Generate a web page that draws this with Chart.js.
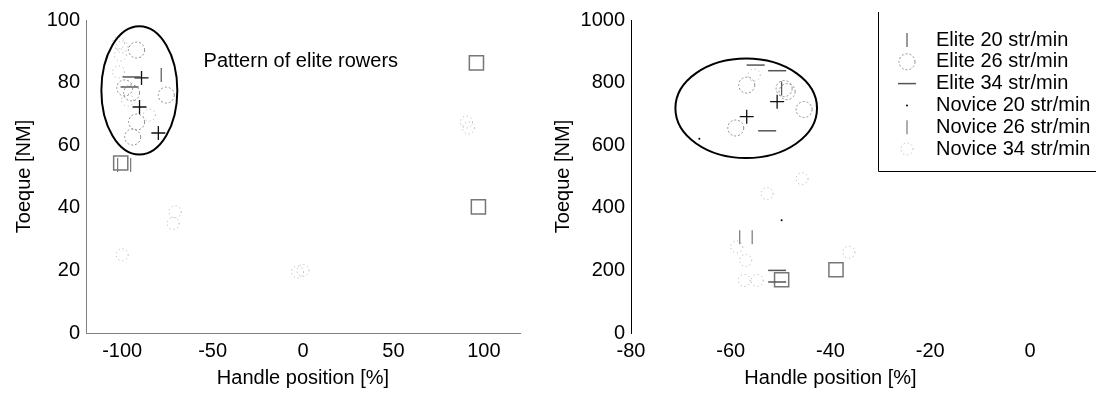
<!DOCTYPE html>
<html>
<head>
<meta charset="utf-8">
<script src="https://cdn.jsdelivr.net/npm/chart.js@4.4.1/dist/chart.umd.min.js"></script>
<style>
  html, body { margin: 0; padding: 0; background: #fff; }
  #wrap { position: relative; width: 1096px; height: 396px; }
  canvas { position: absolute; top: 0; }
</style>
</head>
<body>
<div id="wrap">
  <canvas id="leftChart" width="548" height="396" style="left:0"></canvas>
  <canvas id="rightChart" width="548" height="396" style="left:548px"></canvas>
</div>
<script>
// legend names (the last two groups, crosses and squares, are not in the legend)
var seriesNames = ['Elite 20 str/min', 'Elite 26 str/min', 'Elite 34 str/min',
  'Novice 20 str/min', 'Novice 26 str/min', 'Novice 34 str/min'];

var leftXTicks = [-100, -50, 0, 50, 100];
var leftYTicks = [0, 20, 40, 60, 80, 100];
var rightXTicks = [-80, -60, -40, -20, 0];
var rightYTicks = [0, 200, 400, 600, 800, 1000];

// left panel, [handle position, torque]
var leftElite20 = [[-78.4, 82.4]];
var leftElite26 = [[-92, 90.4], [-75.6, 76], [-92, 67.4], [-94.2, 62.6], [-94.8, 76.7], [-98.6, 78.3]];
var leftElite34 = [[-94.8, 81.8], [-95.9, 78.6]];
var leftNovice20 = [];
var leftNovice26 = [[-102.5, 53.7], [-95.3, 53.7]];
var leftNovice34 = [[-100, 91.4], [-101, 88.8], [-102, 83.4], [-97, 74.4], [-85, 69.6], [-102, 92.7],
  [-70.7, 38.7], [-71.8, 35], [-100, 25], [0, 20], [-3, 19.5], [90.4, 67.4], [91.5, 65.5]];
var leftCross = [[-89.3, 81.5], [-90.4, 72.2], [-80, 63.9]];
var leftSquare = [[-100.8, 54.3], [95.9, 86.3], [97, 40.3]];

// right panel
var rightElite20 = [[-49.8, 781]];
var rightElite26 = [[-56.8, 792], [-59, 655], [-48.7, 771], [-45.3, 714], [-49.3, 781]];
var rightElite34 = [[-55, 856], [-50.7, 838], [-52.7, 646], [-50.7, 200], [-50.7, 163]];
var rightNovice20 = [[-49.8, 360], [-66.3, 621]];
var rightNovice26 = [[-58.2, 306], [-55.7, 306]];
var rightNovice34 = [[-55.3, 824], [-52.7, 445], [-45.7, 493], [-58.8, 275], [-57, 232],
  [-57.3, 168], [-54.7, 168], [-36.3, 258]];
var rightCross = [[-56.8, 691], [-50.7, 739]];
var rightSquare = [[-49.8, 170], [-38.9, 202]];

// ellipses round the elite pattern: centre and half axes in data units
var leftEllipse = { cx: -90.5, cy: 77.5, rx: 21, ry: 20.5 };
var rightEllipse = { cx: -56.9, cy: 718, rx: 14.2, ry: 159 };

var FONT = { family: '"Liberation Sans", Arial, sans-serif', size: 20 };

var markerStyles = [
  { pointStyle: 'line', rotation: 90, radius: 7, color: '#555', width: 1.2 },        // Elite 20
  { pointStyle: 'circle', radius: 8, color: '#8a8a8a', width: 1, dash: [2, 2] },     // Elite 26
  { pointStyle: 'line', radius: 9, color: '#555', width: 1.5 },                     // Elite 34
  { pointStyle: 'circle', radius: 1, color: '#000', width: 0, fill: '#000' },       // Novice 20
  { pointStyle: 'line', rotation: 90, radius: 7, color: '#777', width: 1.2 },        // Novice 26
  { pointStyle: 'circle', radius: 6, color: '#aaa', width: 1, dash: [1, 3] },        // Novice 34
  { pointStyle: 'cross', radius: 7, color: '#111', width: 1.3 },                    // crosses
  { pointStyle: 'rect', radius: 10, color: '#777', width: 1.5 }                     // squares
];

function makeSets(groups) {
  return groups.map(function (pts, i) {
    var st = markerStyles[i];
    return {
      label: seriesNames[i] || '',
      data: pts.map(function (p) { return { x: p[0], y: p[1] }; }),
      showLine: false,
      pointStyle: st.pointStyle,
      rotation: st.rotation || 0,
      pointRadius: st.radius,
      pointBorderColor: st.color,
      pointBorderWidth: st.width,
      pointBackgroundColor: st.fill || 'rgba(0,0,0,0)',
      dash: st.dash || null
    };
  });
}

function drawMarker(ctx, st, x, y) {
  var r = st.radius;
  ctx.save();
  ctx.strokeStyle = st.color;
  ctx.lineWidth = st.width;
  ctx.fillStyle = st.fill || 'rgba(0,0,0,0)';
  if (st.dash) ctx.setLineDash(st.dash);
  ctx.beginPath();
  if (st.pointStyle === 'line') {
    var a = (st.rotation || 0) * Math.PI / 180;
    ctx.moveTo(x - Math.cos(a) * r, y - Math.sin(a) * r);
    ctx.lineTo(x + Math.cos(a) * r, y + Math.sin(a) * r);
  } else if (st.pointStyle === 'circle') {
    ctx.arc(x, y, r, 0, Math.PI * 2);
    ctx.fill();
  }
  if (st.width > 0) ctx.stroke();
  ctx.restore();
}

var dashPlugin = {
  id: 'dashPlugin',
  beforeDatasetDraw: function (chart, args) {
    var ds = chart.data.datasets[args.index];
    if (ds.dash) { chart.ctx.save(); chart.ctx.setLineDash(ds.dash); }
  },
  afterDatasetDraw: function (chart, args) {
    var ds = chart.data.datasets[args.index];
    if (ds.dash) chart.ctx.restore();
  }
};

function ellipsePlugin(el, note) {
  return {
    id: 'ellipse',
    afterDatasetsDraw: function (chart) {
      var ctx = chart.ctx, xs = chart.scales.x, ys = chart.scales.y;
      var px = xs.getPixelForValue(el.cx), py = ys.getPixelForValue(el.cy);
      var rx = Math.abs(xs.getPixelForValue(el.cx + el.rx) - px);
      var ry = Math.abs(ys.getPixelForValue(el.cy + el.ry) - py);
      ctx.save();
      ctx.strokeStyle = '#000';
      ctx.lineWidth = 2;
      ctx.beginPath();
      ctx.ellipse(px, py, rx, ry, 0, 0, Math.PI * 2);
      ctx.stroke();
      if (note) {
        ctx.fillStyle = '#000';
        ctx.font = FONT.size + 'px ' + FONT.family;
        ctx.textAlign = 'left';
        ctx.textBaseline = 'middle';
        ctx.fillText(note.text, xs.getPixelForValue(note.x), ys.getPixelForValue(note.y));
      }
      ctx.restore();
    }
  };
}

var legendPlugin = {
  id: 'boxLegend',
  afterDraw: function (chart) {
    var ctx = chart.ctx;
    var left = 330, top = 12, bottom = 171, right = 548;
    ctx.save();
    ctx.strokeStyle = '#000';
    ctx.lineWidth = 1;
    ctx.beginPath();
    ctx.moveTo(left + 0.5, top);
    ctx.lineTo(left + 0.5, bottom + 0.5);
    ctx.lineTo(right, bottom + 0.5);
    ctx.stroke();
    ctx.font = FONT.size + 'px ' + FONT.family;
    ctx.fillStyle = '#000';
    ctx.textAlign = 'left';
    ctx.textBaseline = 'middle';
    seriesNames.forEach(function (name, i) {
      var y = 40 + i * 21.8;
      drawMarker(ctx, markerStyles[i], 359, y);
      ctx.fillText(name, 388, y);
    });
    ctx.restore();
  }
};

function axisOpts(min, max, ticks, title, borderColor, showBorder, isY, size, titlePad) {
  return {
    type: 'linear',
    min: min,
    max: max,
    afterBuildTicks: function (s) { s.ticks = ticks.map(function (v) { return { value: v }; }); },
    afterFit: function (s) { if (isY) s.width = size; else s.height = size; },
    grid: { display: false, drawTicks: false, tickLength: 0 },
    border: { display: showBorder, color: borderColor, width: 1 },
    ticks: { font: FONT, color: '#000', padding: 6, maxRotation: 0,
      callback: function (v) { return String(v); } },
    title: { display: true, text: title, font: FONT, color: '#000', padding: titlePad }
  };
}

function makeChart(id, groups, xr, yr, xTicks, yTicks, axisColor, showXBorder, yWidth, rightPad, yTitlePad, plugins) {
  return new Chart(document.getElementById(id), {
    type: 'scatter',
    data: { datasets: makeSets(groups) },
    options: {
      responsive: false,
      animation: false,
      devicePixelRatio: 1,
      events: [],
      layout: { padding: { top: 20, right: rightPad, left: 0, bottom: 0 } },
      plugins: { legend: { display: false }, tooltip: { enabled: false } },
      scales: {
        x: axisOpts(xr[0], xr[1], xTicks, 'Handle position [%]', axisColor, showXBorder, false, 63, { top: 0, bottom: 6 }),
        y: axisOpts(yr[0], yr[1], yTicks, 'Toeque [NM]', axisColor, true, true, yWidth, { top: yTitlePad, bottom: 0 })
      }
    },
    plugins: plugins
  });
}

makeChart('leftChart',
  [leftElite20, leftElite26, leftElite34, leftNovice20, leftNovice26, leftNovice34, leftCross, leftSquare],
  [-120, 120], [0, 100], leftXTicks, leftYTicks, '#808080', true, 86, 28, 12,
  [dashPlugin, ellipsePlugin(leftEllipse, { text: 'Pattern of elite rowers', x: -55, y: 86.6 })]);

makeChart('rightChart',
  [rightElite20, rightElite26, rightElite34, rightNovice20, rightNovice26, rightNovice34, rightCross, rightSquare],
  [-80, 0], [0, 1000], rightXTicks, rightYTicks, '#000', false, 83, 66, 3,
  [dashPlugin, ellipsePlugin(rightEllipse, null), legendPlugin]);
</script>
</body>
</html>
